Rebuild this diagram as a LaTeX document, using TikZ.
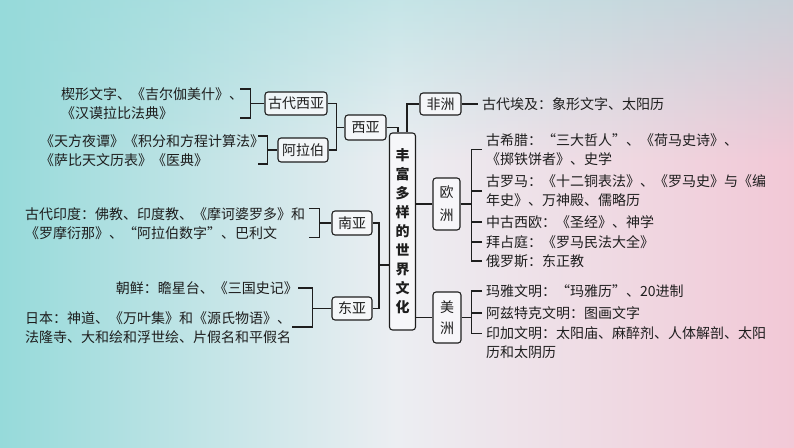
\documentclass[tikz,border=0pt]{standalone}
\usepackage{fontspec}
\newfontfamily\cjk{Noto Sans CJK SC}
\usetikzlibrary{calc,fadings}
\definecolor{bgteal}{RGB}{150,218,218}
\definecolor{bgpink}{RGB}{242,200,214}
\definecolor{bgmid}{RGB}{236,238,242}
\definecolor{boxfill}{RGB}{250,250,252}
\definecolor{ink}{RGB}{30,30,30}
\tikzset{
  mbox/.style={draw=ink, line width=1.1pt, rounded corners=3pt, fill=boxfill, fill opacity=0.8, text opacity=1, inner sep=0pt, align=center, text=ink},
  itxt/.style={inner xsep=4pt, inner ysep=0pt, align=left, text=ink},
  conn/.style={draw=ink, line width=1.1pt},
}
\begin{document}
\begin{tikzpicture}[x=1pt,y=-1pt, font=\cjk\fontsize{14}{19}\selectfont]
\useasboundingbox (0,0) rectangle (794,447);
\shade[left color=bgteal, right color=bgpink, middle color=bgmid] (0,0) rectangle (794,447);
\fill[bgteal, path fading=south, opacity=0.45] (0,0) rectangle (794,160);

% boxes
\node[mbox, minimum width=26pt, minimum height=197pt, font=\cjk\bfseries\fontsize{14}{19}\selectfont] (zx) at (402.5,231.5) {丰\\富\\多\\样\\的\\世\\界\\文\\化};
\node[mbox, minimum width=41pt, minimum height=25pt] (xy) at (365.5,127.5) {西亚};
\node[mbox, minimum width=62pt, minimum height=23pt] (gdxy) at (296,103.5) {古代西亚};
\node[mbox, minimum width=50pt, minimum height=24pt] (alb) at (303,150) {阿拉伯};
\node[mbox, minimum width=40pt, minimum height=24pt] (ny) at (352,223) {南亚};
\node[mbox, minimum width=40pt, minimum height=23pt] (dy) at (352,308.5) {东亚};
\node[mbox, minimum width=41pt, minimum height=22pt] (fz) at (440.5,104) {非洲};
\node[mbox, minimum width=27pt, minimum height=52pt, font=\cjk\fontsize{14}{23}\selectfont] (oz) at (446.5,204) {欧\\洲};
\node[mbox, minimum width=28pt, minimum height=51pt, font=\cjk\fontsize{14}{21}\selectfont] (mz) at (447,317.5) {美\\洲};

% texts
\node[itxt, anchor=west] (t1) at (57,104) {楔形文字、《吉尔伽美什》、\\《汉谟拉比法典》};
\node[itxt, anchor=west] (t2) at (36,151) {《天方夜谭》《积分和方程计算法》\\《萨比天文历表》《医典》};
\node[itxt, anchor=west] (t3) at (21,223.5) {古代印度：佛教、印度教、《摩诃婆罗多》和\\《罗摩衍那》、“阿拉伯数字”、巴利文};
\node[itxt, anchor=east, inner xsep=0pt] (t4) at (298,288) {朝鲜：瞻星台、《三国史记》};
\node[itxt, anchor=west] (t5) at (21,327.5) {日本：神道、《万叶集》和《源氏物语》、\\法隆寺、大和绘和浮世绘、片假名和平假名};
\node[itxt, anchor=west] (f1) at (478,104) {古代埃及：象形文字、太阳历};
\node[itxt, anchor=west] (e1) at (482,149.5) {古希腊：“三大哲人”、《荷马史诗》、\\《掷铁饼者》、史学};
\node[itxt, anchor=west] (e2) at (482,191) {古罗马：《十二铜表法》、《罗马史》与《编\\年史》、万神殿、儒略历};
\node[itxt, anchor=west] (e3) at (482,222) {中古西欧：《圣经》、神学};
\node[itxt, anchor=west] (e4) at (482,242) {拜占庭：《罗马民法大全》};
\node[itxt, anchor=west] (e5) at (482,261) {俄罗斯：东正教};
\node[itxt, anchor=west] (a1) at (482,291) {玛雅文明：“玛雅历”、20进制};
\node[itxt, anchor=west] (a2) at (482,313) {阿兹特克文明：图画文字};
\node[itxt, anchor=west] (a3) at (482,343) {印加文明：太阳庙、麻醉剂、人体解剖、太阳\\历和太阴历};

% west asia
\draw[conn] (gdxy.east) -| ($(xy.west)+(-8,0)$) |- (alb.east);
\draw[conn] ($(xy.west)+(-8,0)$) -- (xy.west);
\draw[conn] (xy.east) -| ([xshift=-4.5pt]zx.north);
\draw[conn] (fz.west) -| ([xshift=4.5pt]zx.north);

\draw[conn] (gdxy.west) -- ++(-14,0) coordinate (b1);
\draw[conn] ($(b1)+(-10,-14.5)$) -- ++(10,0) -- ++(0,29) -- ++(-10,0);
\draw[conn] (alb.west) -- ++(-10,0) coordinate (b2);
\draw[conn] ($(b2)+(-9,-14)$) -- ++(9,0) -- ++(0,28) -- ++(-9,0);

% south / east asia
\draw[conn] (ny.west) -- ++(-12,0) coordinate (b3);
\draw[conn] ($(b3)+(-10,-14.5)$) -- ++(10,0) -- ++(0,29) -- ++(-10,0);
\draw[conn] (dy.west) -- ++(-19,0) coordinate (b4);
\draw[conn] (t4.east) -- (t4.east -| b4) -- ($(b4)+(0,18.5)$) -- ++(-20,0);

\coordinate (sj) at (379,265);
\draw[conn] (ny.east) -| (sj) |- (dy.east);
\draw[conn] (sj) -- (sj -| zx.west);

% right
\draw[conn] (fz.east) -- (f1.west);
\draw[conn] (oz.west) -- (oz.west -| zx.east);
\draw[conn] (mz.west) -- (mz.west -| zx.east);
\draw[conn] (oz.east) -- ++(11,0) coordinate (ob);
\draw[conn] (e1.west) -- (e1.west -| ob) -- (e5.west -| ob) -- (e5.west);
\foreach \n in {e2,e3,e4} \draw[conn] (\n.west) -- (\n.west -| ob);
\draw[conn] (mz.east) -- ++(10,0) coordinate (mb);
\coordinate (a3t) at ([yshift=9.5pt]a3.west);
\draw[conn] (a1.west) -- (a1.west -| mb) -- (a3t -| mb) -- (a3t);
\draw[conn] (a2.west) -- (a2.west -| mb);
\end{tikzpicture}
\end{document}
